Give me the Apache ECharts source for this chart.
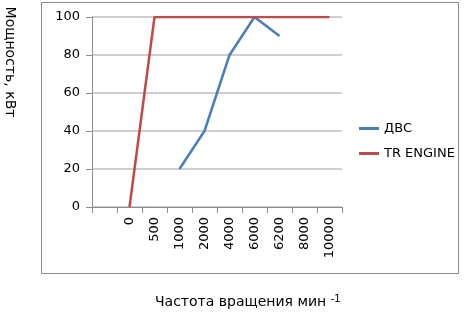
<!DOCTYPE html>
<html><head><meta charset="utf-8">
<script src="https://cdn.jsdelivr.net/npm/echarts@6/dist/echarts.min.js"></script>
<style>html,body{margin:0;padding:0;background:#fff}#c{width:465px;height:316px}</style>
</head><body><div id="c"></div>
<script>
const categories = ["", "0", "500", "1000", "2000", "4000", "6000", "6200", "8000", "10000"];
const dvs = [null, null, null, 20, 40, 80, 100, 90, null, null];
const trEngine = [null, 0, 100, 100, 100, 100, 100, 100, 100, 100];
const yTicks = { min: 0, max: 100, interval: 20 };
const FONT = 'DejaVu Sans';
const chart = echarts.init(document.getElementById('c'), null, { renderer: 'canvas' });
chart.setOption({
  animation: false,
  backgroundColor: '#fff',
  textStyle: { fontFamily: FONT },
  graphic: [
    { type: 'rect', shape: { x: 41.5, y: 2.5, width: 417, height: 271 }, style: { fill: 'none', stroke: '#8c8c8c', lineWidth: 1 }, z: 0 },
    { type: 'text', left: 155, top: 294, style: { text: '{m|Частота вращения мин }{s|-1}', rich: { m: { fontFamily: FONT, fontSize: 14, fill: '#000' }, s: { fontFamily: FONT, fontSize: 10, fill: '#000', verticalAlign: 'top', padding: [0, 0, 6, 0] } } } },
    { type: 'text', x: 10, y: 62, rotation: -Math.PI / 2, style: { text: 'Мощность, кВт', fontFamily: FONT, fontSize: 14, fill: '#000', align: 'center', verticalAlign: 'middle' } }
  ],
  legend: {
    orient: 'vertical', left: 354, top: 117, itemWidth: 20, itemHeight: 3, itemGap: 12, icon: 'rect',
    textStyle: { fontFamily: FONT, fontSize: 13, color: '#000' },
    data: ['ДВС', 'TR ENGINE']
  },
  grid: { left: 92, right: 123, top: 17, bottom: 109, containLabel: false, outerBoundsMode: 'none' },
  xAxis: {
    type: 'category', data: categories, boundaryGap: true,
    axisLine: { lineStyle: { color: '#8c8c8c', width: 1 } },
    axisTick: { show: true, alignWithLabel: false, length: 6, lineStyle: { color: '#8c8c8c' } },
    axisLabel: { rotate: 90, interval: 0, fontSize: 13, color: '#000', margin: 10, fontFamily: FONT }
  },
  yAxis: {
    type: 'value', min: yTicks.min, max: yTicks.max, interval: yTicks.interval,
    axisLine: { show: true, lineStyle: { color: '#8c8c8c', width: 1 } },
    axisTick: { show: true, length: 6, lineStyle: { color: '#8c8c8c' } },
    axisLabel: { fontSize: 13, color: '#000', margin: 12, fontFamily: FONT },
    splitLine: { lineStyle: { color: '#bfbfbf', width: 1.5 } }
  },
  series: [
    { name: 'ДВС', type: 'line', data: dvs, symbol: 'none', connectNulls: false, lineStyle: { color: '#4a7ebb', width: 2.5 }, itemStyle: { color: '#4a7ebb' } },
    { name: 'TR ENGINE', type: 'line', data: trEngine, symbol: 'none', lineStyle: { color: '#be4b48', width: 2.5 }, itemStyle: { color: '#be4b48' } }
  ]
});
</script></body></html>
